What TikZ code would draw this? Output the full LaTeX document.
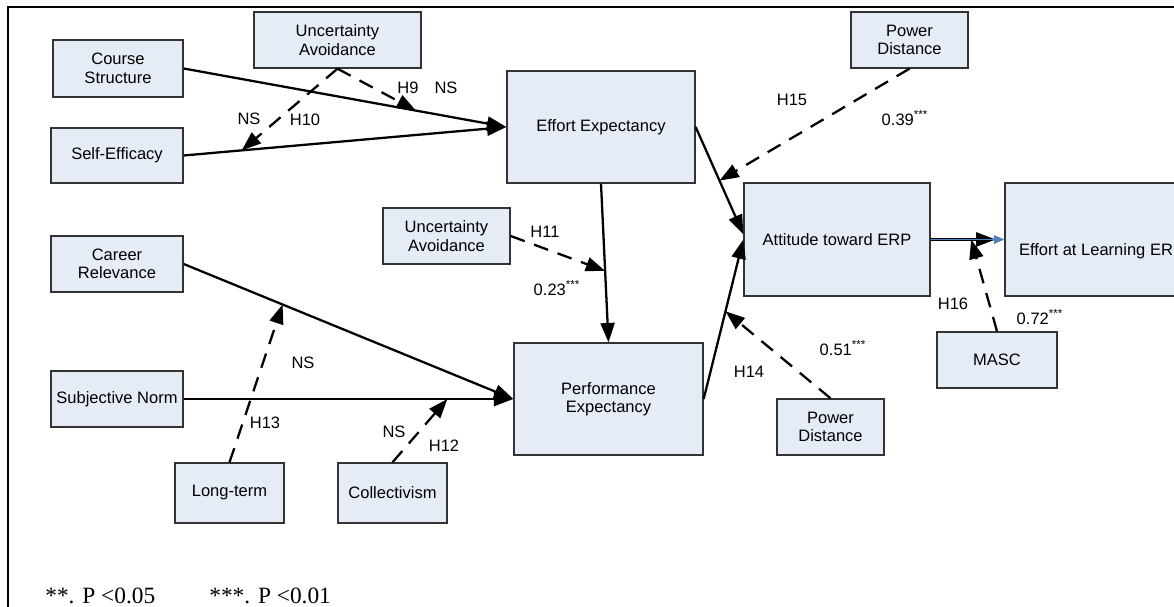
\documentclass[tikz,border=0pt]{standalone}
\usepackage{fontspec}
\setsansfont{Liberation Sans}
\newfontfamily\timesfont{Liberation Serif}
\usetikzlibrary{arrows.meta}
\definecolor{boxfill}{RGB}{230,236,246}
\definecolor{tipblue}{RGB}{79,129,189}

\begin{document}
\begin{tikzpicture}[x=0.02cm, y=-0.02cm,
    > = {Triangle[length=11pt,width=8pt]},
    every node/.style={font=\sffamily\fontsize{9.4}{10.5}\selectfont, align=center},
    box/.style={draw=black!80, line width=0.8pt, fill=boxfill, inner sep=0pt},
    conn/.style={->, line width=1.3pt},
    modr/.style={->, line width=1.3pt, dash pattern=on 8.5pt off 5.7pt}]
    \useasboundingbox (0,0) rectangle (1174,607);
    \clip (0,0) rectangle (1174,607);
    \draw[line width=1.4pt] (8,7) rectangle (1400,800);

    \node[box, minimum width=2.6cm, minimum height=1.14cm] (CourseStr) at (118,68.5) {Course\\Structure};
    \node[box, minimum width=3.34cm, minimum height=1.12cm] (UncAvoidTop) at (337.5,40) {Uncertainty\\Avoidance};
    \node[box, minimum width=2.64cm, minimum height=1.1cm] (SelfEff) at (117,155.5) {Self-Efficacy};
    \node[box, minimum width=3.76cm, minimum height=2.24cm] (EffortExp) at (601,127) {Effort Expectancy};
    \node[box, minimum width=2.34cm, minimum height=1.12cm] (PowerTop) at (909.5,40) {Power\\Distance};
    \node[box, minimum width=2.64cm, minimum height=1.12cm] (CareerRel) at (117,264) {Career\\Relevance};
    \node[box, minimum width=2.54cm, minimum height=1.12cm] (UncAvoidMid) at (446.5,236) {Uncertainty\\Avoidance};
    \node[box, minimum width=3.72cm, minimum height=2.26cm] (Attitude) at (837,239.5) {Attitude toward ERP};
    \node[box, minimum width=3.86cm, minimum height=2.26cm, text height=18pt, text depth=0pt] (EffortLearn) at (1101.5,239.5) {Effort at Learning ERP};
    \node[box, minimum width=2.64cm, minimum height=1.12cm] (SubjNorm) at (117,399) {Subjective Norm};
    \node[box, minimum width=3.78cm, minimum height=2.24cm] (PerfExp) at (608.5,399) {Performance\\Expectancy};
    \node[box, minimum width=2.18cm, minimum height=1.2cm] (LongTerm) at (229.5,493) {Long-term};
    \node[box, minimum width=2.18cm, minimum height=1.2cm] (Collect) at (392.5,493) {Collectivism};
    \node[box, minimum width=2.14cm, minimum height=1.12cm] (PowerBot) at (830.5,427) {Power\\Distance};
    \node[box, minimum width=2.4cm, minimum height=1.12cm] (Masc) at (997,360) {MASC};

    % main paths
    \draw[conn] (CourseStr.east) -- coordinate[pos=0.72] (H9pt) (EffortExp.west);
    \draw[conn] (SelfEff.east) -- coordinate[pos=0.18] (H10pt) (EffortExp.west);
    \draw[conn] (CareerRel.east) -- coordinate[pos=0.30] (H13pt) (PerfExp.west);
    \draw[conn] (SubjNorm.east) -- coordinate[pos=0.80] (H12pt) (PerfExp.west);
    \draw[conn] (EffortExp.south) -- coordinate[pos=0.55] (H11pt) (PerfExp.north);
    \draw[conn] (EffortExp.east) -- coordinate[pos=0.5] (H15pt) ([yshift=3pt]Attitude.west);
    \draw[conn] (PerfExp.east) -- coordinate[pos=0.55] (H14pt) (Attitude.west);
    \draw[conn, shorten >=5pt] (Attitude.east) -- coordinate[pos=0.55] (H16pt) (EffortLearn.west);
    \draw[-{Triangle[length=6pt,width=5pt]}, tipblue, line width=0.5pt] (Attitude.east) -- (EffortLearn.west);

    % moderators
    \draw[modr] (UncAvoidTop.south) -- (H9pt);
    \draw[modr] (UncAvoidTop.south) -- (H10pt);
    \draw[modr] (UncAvoidMid.east) -- (H11pt);
    \draw[modr] (Collect.north) -- (H12pt);
    \draw[modr] (LongTerm.north) -- (H13pt);
    \draw[modr] (PowerBot.north) -- (H14pt);
    \draw[modr] (PowerTop.south) -- (H15pt);
    \draw[modr] (Masc.north) -- (H16pt);

    \node (lH9) at (408,88) {H9};
    \node (lNS9) at (446,88) {NS};
    \node (lNS10) at (249,119) {NS};
    \node (lH10) at (305,120) {H10};
    \node (lH11) at (545,232) {H11};
    \node (l23) at (557,288) {0.23\textsuperscript{***}};
    \node (lNS13) at (303,363) {NS};
    \node (lH13) at (265,423) {H13};
    \node (lNS12) at (394,432) {NS};
    \node (lH12) at (444,446) {H12};
    \node (lH14) at (749,372) {H14};
    \node (l51) at (843,348) {0.51\textsuperscript{***}};
    \node (lH15) at (792,100) {H15};
    \node (l39) at (905,118) {0.39\textsuperscript{***}};
    \node (lH16) at (953,304) {H16};
    \node (l72) at (1040,317) {0.72\textsuperscript{***}};

    \node[anchor=west, inner sep=0pt, font=\timesfont\fontsize{13.3}{15}\selectfont] (FootA) at (45,596) {**. P <0.05};
    \node[anchor=west, inner sep=0pt, font=\timesfont\fontsize{13.3}{15}\selectfont] (FootB) at (209,596) {***. P <0.01};
\end{tikzpicture}
\end{document}
